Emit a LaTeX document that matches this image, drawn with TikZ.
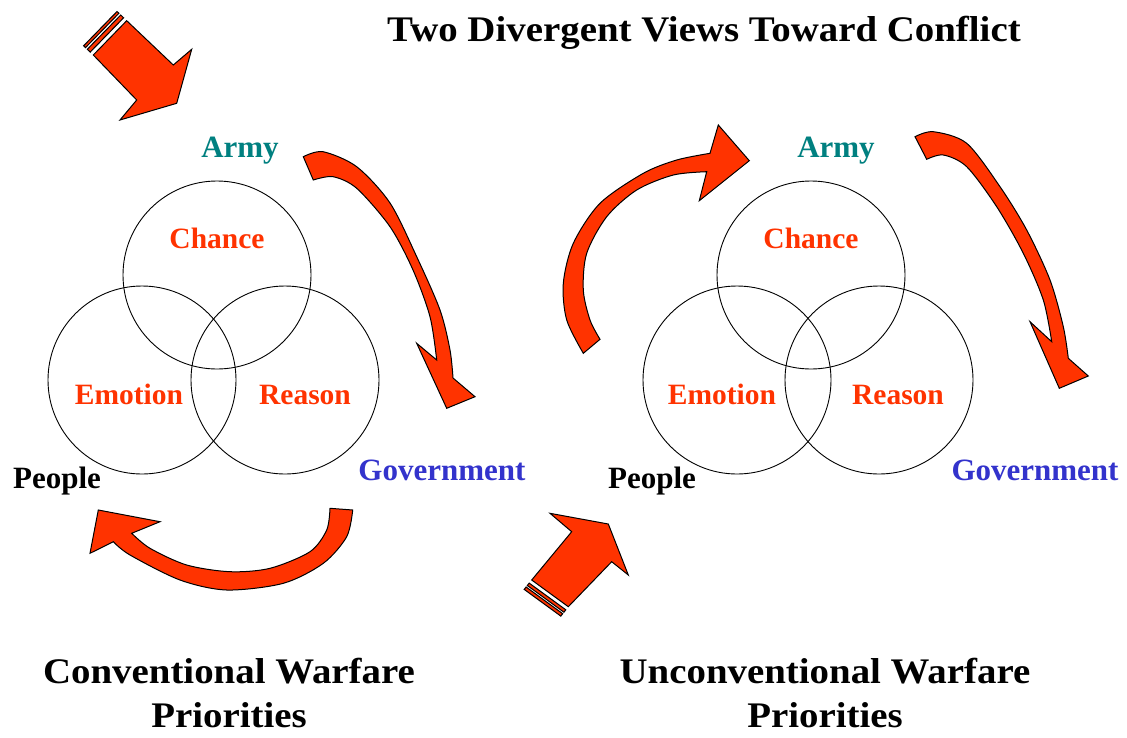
\documentclass[tikz,border=0pt]{standalone}
\usepackage{fontspec}
\setmainfont{Liberation Serif}
\newfontfamily\widefont{Liberation Serif}[FakeStretch=1.08]
\definecolor{arrowred}{RGB}{255,51,0}
\definecolor{labelred}{RGB}{255,51,0}
\definecolor{armyteal}{RGB}{0,128,128}
\definecolor{govblue}{RGB}{51,51,204}
\tikzset{
  arrowshape/.style={fill=arrowred, draw=black, line width=1pt, line join=miter},
  ring/.style={draw=black, line width=0.9pt},
  bigtext/.style={font=\widefont\bfseries\fontsize{36}{36}\selectfont, anchor=base, inner sep=0pt},
  redlabel/.style={font=\bfseries\fontsize{29.5}{30}\selectfont, text=labelred, anchor=base, inner sep=0pt},
  blacklabel/.style={font=\bfseries\fontsize{31}{31}\selectfont, text=black, anchor=base, inner sep=0pt},
  armylabel/.style={font=\bfseries\fontsize{31}{31}\selectfont, text=armyteal, anchor=base, inner sep=0pt},
  govlabel/.style={font=\bfseries\fontsize{31}{31}\selectfont, text=govblue, anchor=base, inner sep=0pt}
}
\begin{document}
\begin{tikzpicture}[x=1pt, y=-1pt]
\useasboundingbox[fill=white] (0,0) rectangle (1127,737);

% title
\node[bigtext] (title) at (704,41) {Two Divergent Views Toward Conflict};

% ---------- left diagram ----------
\draw[ring] (217,275) circle (94);
\draw[ring] (142,380) circle (94);
\draw[ring] (285,380) circle (94);
\node[armylabel] (armyL) at (240,157) {Army};
\node[redlabel] (chanceL) at (217,248) {Chance};
\node[redlabel] (emotionL) at (129,404) {Emotion};
\node[redlabel] (reasonL) at (305,404) {Reason};
\node[blacklabel] (peopleL) at (57,488) {People};
\node[govlabel] (govL) at (442,480) {Government};
\node[bigtext] (convA) at (229,683) {Conventional Warfare};
\node[bigtext] (convB) at (229,727) {Priorities};

% striped block arrow (top left)
\filldraw[arrowshape] (126.7,20.7) -- (173.3,65) -- (191.7,49.3) -- (176.7,103.3) -- (120,120) -- (136.7,100) -- (93.3,55) -- cycle;
\filldraw[arrowshape] (123.6,17.8) -- (90.2,52.1) -- (87.3,49.3) -- (120.7,15.0) -- cycle;
\filldraw[arrowshape] (118.9,13.3) -- (85.5,47.6) -- (83.6,45.8) -- (117.0,11.5) -- cycle;

% curved arrow Army -> Government
\filldraw[arrowshape] plot[smooth] coordinates {(303.3,156.7) (323,151.7) (356.7,166.7) (390,203) (416.7,256.7) (440,310) (450,350) (453,378)}
  -- (475,396.7) -- (446.7,408.3) -- (416.7,343.3)
  -- plot[smooth] coordinates {(436.7,360) (430,316.7) (413,270) (390,226.7) (356.7,188.3) (333,176.7) (313.3,180)} -- cycle;

% curved arrow Government -> People
\filldraw[arrowshape] plot[smooth] coordinates {(352.7,510) (346.7,536.7) (323.3,563.3) (283.3,583.3) (226.7,590) (180,580) (130,555) (113.3,541.7)}
  -- (90,553.3) -- (98.3,510) -- (160,521.7)
  -- plot[smooth] coordinates {(131.7,533.3) (150,548.3) (186.7,565) (230,571.7) (270,568.3) (310,551.7) (326.7,530) (330,508.3)} -- cycle;

% ---------- right diagram ----------
\draw[ring] (811,275) circle (94);
\draw[ring] (737,380) circle (94);
\draw[ring] (879,380) circle (94);
\node[armylabel] (armyR) at (836,157) {Army};
\node[redlabel] (chanceR) at (811,248) {Chance};
\node[redlabel] (emotionR) at (722,404) {Emotion};
\node[redlabel] (reasonR) at (898,404) {Reason};
\node[blacklabel] (peopleR) at (652,488) {People};
\node[govlabel] (govR) at (1035,480) {Government};
\node[bigtext] (uncA) at (825,683) {Unconventional Warfare};
\node[bigtext] (uncB) at (825,727) {Priorities};

% striped block arrow (bottom middle)
\filldraw[arrowshape] (550,513.3) -- (608.3,524) -- (628.3,575) -- (611.7,561.7) -- (568.3,606.7) -- (531.7,580) -- (571.7,531.7) -- cycle;
\filldraw[arrowshape] (565.8,609.8) -- (529.2,583.1) -- (527.3,585.5) -- (563.9,612.2) -- cycle;
\filldraw[arrowshape] (562.7,613.7) -- (526.1,587) -- (524.2,589.4) -- (560.8,616.1) -- cycle;

% curved arrow People -> Army
\filldraw[arrowshape] plot[smooth] coordinates {(583.3,353.3) (566.7,320) (563.3,283.3) (573.3,243.3) (600,203.3) (643.3,173.3) (676.7,160) (710,153.3)}
  -- (718.3,125) -- (749.3,160.7) -- (699.3,200.7)
  -- plot[smooth] coordinates {(706.7,171.7) (673.3,175) (636.7,190) (606.7,216.7) (586.7,253.3) (583.3,290) (590,320) (600,339.3)} -- cycle;

% curved arrow Army -> Government
\filldraw[arrowshape] plot[smooth] coordinates {(915,136.7) (933.3,131.7) (966.7,143.3) (1000,186.7) (1026.7,230) (1050,280) (1063.3,326.7) (1068.3,358.3)}
  -- (1088.3,376) -- (1059.3,388.3) -- (1030,321.7)
  -- plot[smooth] coordinates {(1051.7,341.7) (1043.3,300) (1023.3,253.3) (996.7,206.7) (966.7,166.7) (943.3,155) (926.7,159.3)} -- cycle;
\end{tikzpicture}
\end{document}
